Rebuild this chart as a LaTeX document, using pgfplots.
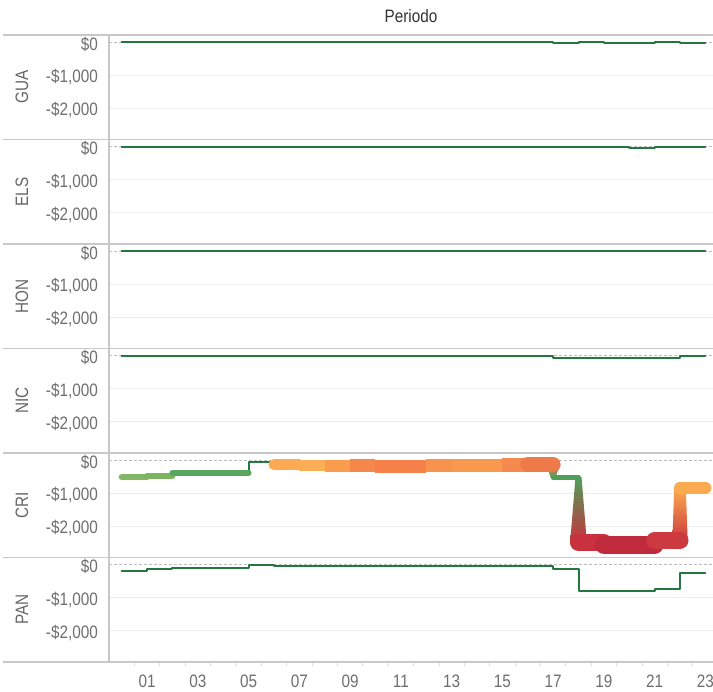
\documentclass[border=0pt]{standalone}
\usepackage{fontspec}
\setmainfont{Liberation Sans}[FakeStretch=0.85]
\usepackage{pgfplots}
\pgfplotsset{compat=1.18}

\definecolor{dg}{HTML}{24773F}
\definecolor{gridc}{HTML}{EDEDED}
\definecolor{zeroc}{HTML}{BDBDBD}
\definecolor{sepc}{HTML}{C8C8C8}
\definecolor{tickmc}{HTML}{DDDDDD}
\definecolor{tickc}{HTML}{6E6E6E}
\definecolor{rowc}{HTML}{666666}
\definecolor{titc}{HTML}{333333}
\definecolor{c0}{HTML}{82B763}
\definecolor{c1}{HTML}{7DB462}
\definecolor{c2}{HTML}{5AA55F}
\definecolor{c6}{HTML}{FCAB52}
\definecolor{c7}{HTML}{FCAE55}
\definecolor{c8}{HTML}{F99C4E}
\definecolor{c9}{HTML}{F5874B}
\definecolor{c10}{HTML}{F5804A}
\definecolor{c12}{HTML}{F8934D}
\definecolor{c13}{HTML}{F9994D}
\definecolor{c15}{HTML}{F48A4D}
\definecolor{c16}{HTML}{EE7A4A}
\definecolor{c17}{HTML}{4F9F5B}
\definecolor{c18}{HTML}{C9313E}
\definecolor{c19}{HTML}{C02A3D}
\definecolor{c21}{HTML}{CC3A3F}
\definecolor{c22}{HTML}{FBAB4F}

\newcommand\fs{\fontsize{18bp}{20bp}\selectfont}

\tikzset{tl/.style={draw=dg, line width=2bp}}

\pgfplotsset{panel/.style={
  scale only axis, width=604bp, height=104.5bp,
  xmin=-0.5, xmax=23.3, ymin=-2950, ymax=220,
  axis line style={draw=none},
  major tick length=0pt,
  xtick=\empty,
  ytick={-2000,-1000}, yticklabels={{-\$2,000},{-\$1,000}},
  extra y ticks={0}, extra y tick labels={{\$0}},
  extra y tick style={major grid style={draw=zeroc, dash pattern=on 3bp off 2bp, line width=1bp}},
  ymajorgrids, major grid style={draw=gridc, line width=1.2bp},
  yticklabel style={font=\fs, text=tickc, anchor=east, inner sep=0pt, xshift=-11bp, yshift=-2bp},
  every axis y label/.style={at={(rel axis cs:-0.144,0.5)}, rotate=90, anchor=center, font=\fs, text=rowc},
  clip=false, anchor=north west,
  ytick pos=left, xtick pos=bottom,
  every axis plot/.append style={const plot, no marks, line cap=round, line join=round},
}}

\begin{document}
\begin{tikzpicture}
\path[use as bounding box] (0,0) rectangle (713bp,-692bp);

% GUA
\begin{axis}[panel, at={(109bp,-35bp)}, ylabel={GUA},
  title={Periodo}, title style={at={(0.5,1)}, anchor=base, yshift=7bp, font=\fs, text=titc}]
\addplot[tl] coordinates {(0,0)(1,0)(2,0)(3,0)(4,0)(5,0)(6,0)(7,0)(8,0)(9,0)(10,0)(11,0)(12,0)(13,0)(14,0)(15,0)(16,0)(17,-15)(18,0)(19,-20)(20,-20)(21,0)(22,-25)(23,-25)};
\end{axis}

% ELS
\begin{axis}[panel, at={(109bp,-139.5bp)}, ylabel={ELS}]
\addplot[tl] coordinates {(0,0)(1,0)(2,0)(3,0)(4,0)(5,0)(6,0)(7,0)(8,0)(9,0)(10,-20)(11,-20)(12,0)(13,0)(14,0)(15,0)(16,0)(17,0)(18,-15)(19,-15)(20,-50)(21,-20)(22,-15)(23,-15)};
\end{axis}

% HON
\begin{axis}[panel, at={(109bp,-244bp)}, ylabel={HON}]
\addplot[tl] coordinates {(0,0)(1,0)(2,0)(3,0)(4,0)(5,0)(6,0)(7,0)(8,0)(9,0)(10,0)(11,0)(12,0)(13,0)(14,0)(15,0)(16,0)(17,0)(18,0)(19,0)(20,0)(21,0)(22,0)(23,0)};
\end{axis}

% NIC
\begin{axis}[panel, at={(109bp,-348.5bp)}, ylabel={NIC}]
\addplot[tl] coordinates {(0,0)(1,0)(2,0)(3,0)(4,0)(5,0)(6,0)(7,0)(8,0)(9,0)(10,0)(11,0)(12,0)(13,0)(14,0)(15,0)(16,0)(17,-70)(18,-70)(19,-70)(20,-70)(21,-70)(22,0)(23,0)};
\end{axis}

% CRI
\begin{axis}[panel, at={(109bp,-453bp)}, ylabel={CRI}]
% gradient connectors
\addplot[draw=none, sharp plot, top color=c16, bottom color=c17] coordinates {(16.72,-125)(17.28,-125)(17.1,-515)(16.9,-515)} -- cycle;
\addplot[draw=none, sharp plot, top color=c17, bottom color=c18] coordinates {(17.88,-515)(18.12,-515)(18.33,-2500)(17.67,-2500)} -- cycle;
\addplot[draw=none, sharp plot, top color=c22, bottom color=c21] coordinates {(21.77,-830)(22.23,-830)(22.3,-2430)(21.7,-2430)} -- cycle;
\addplot[tl, sharp plot] coordinates {(5,-380)(5,-55)(6,-55)};
% segments
\addplot[draw=c0, line width=6bp] coordinates {(0,-510)(1,-510)};
\addplot[draw=c1, line width=6bp] coordinates {(1,-480)(2,-480)};
\addplot[draw=c2, line width=6bp] coordinates {(2,-380)(3,-380)(4,-380)(5,-380)};
\addplot[draw=c6, line width=11bp] coordinates {(6,-130)(7,-130)};
\addplot[draw=c7, line width=11bp, line cap=butt] coordinates {(7,-170)(8,-170)};
\addplot[draw=c8, line width=12bp, line cap=butt] coordinates {(8,-175)(9,-175)};
\addplot[draw=c9, line width=13bp, line cap=butt] coordinates {(9,-170)(10,-170)};
\addplot[draw=c10, line width=13bp, line cap=butt] coordinates {(10,-190)(11,-190)(12,-190)};
\addplot[draw=c12, line width=13bp, line cap=butt] coordinates {(12,-150)(13,-150)};
\addplot[draw=c13, line width=13bp, line cap=butt] coordinates {(13,-150)(14,-150)(15,-150)};
\addplot[draw=c15, line width=14bp, line cap=butt] coordinates {(15,-145)(16,-145)};
\addplot[draw=c16, line width=15bp] coordinates {(16,-130)(17,-130)};
\addplot[draw=c17, line width=5bp] coordinates {(17,-515)(18,-515)};
\addplot[draw=c18, line width=17bp] coordinates {(18,-2500)(19,-2500)};
\addplot[draw=c19, line width=18bp] coordinates {(19,-2560)(20,-2560)(21,-2560)};
\addplot[draw=c21, line width=17bp] coordinates {(21,-2430)(22,-2430)};
\addplot[draw=c22, line width=12bp] coordinates {(22,-830)(23,-830)};
\end{axis}

% PAN
\begin{axis}[panel, at={(109bp,-557.5bp)}, ylabel={PAN},
  xtick={1,3,...,23}, xticklabels={01,03,05,07,09,11,13,15,17,19,21,23},
  xticklabel style={font=\fs, text=tickc, inner sep=0pt, yshift=-12.5bp},
  extra x ticks={0.5,1.5,...,22.5}, extra x tick labels={},
  extra x tick style={major tick length=4bp, tick align=outside, major tick style={draw=tickmc, line width=0.8bp}}]
\addplot[tl] coordinates {(0,-175)(1,-130)(2,-100)(3,-100)(4,-100)(5,-20)(6,-50)(7,-50)(8,-50)(9,-50)(10,-50)(11,-50)(12,-50)(13,-50)(14,-50)(15,-50)(16,-50)(17,-130)(18,-785)(19,-785)(20,-785)(21,-745)(22,-255)(23,-255)};
\end{axis}

\foreach \y in {35,139.5,244,348.5,453,557.5,662}
  \draw[sepc, line width=1.8bp] (3bp,{-\y*1bp}) -- (713bp,{-\y*1bp});
\draw[sepc, line width=1.8bp] (109bp,-35bp) -- (109bp,-662bp);
\end{tikzpicture}
\end{document}
